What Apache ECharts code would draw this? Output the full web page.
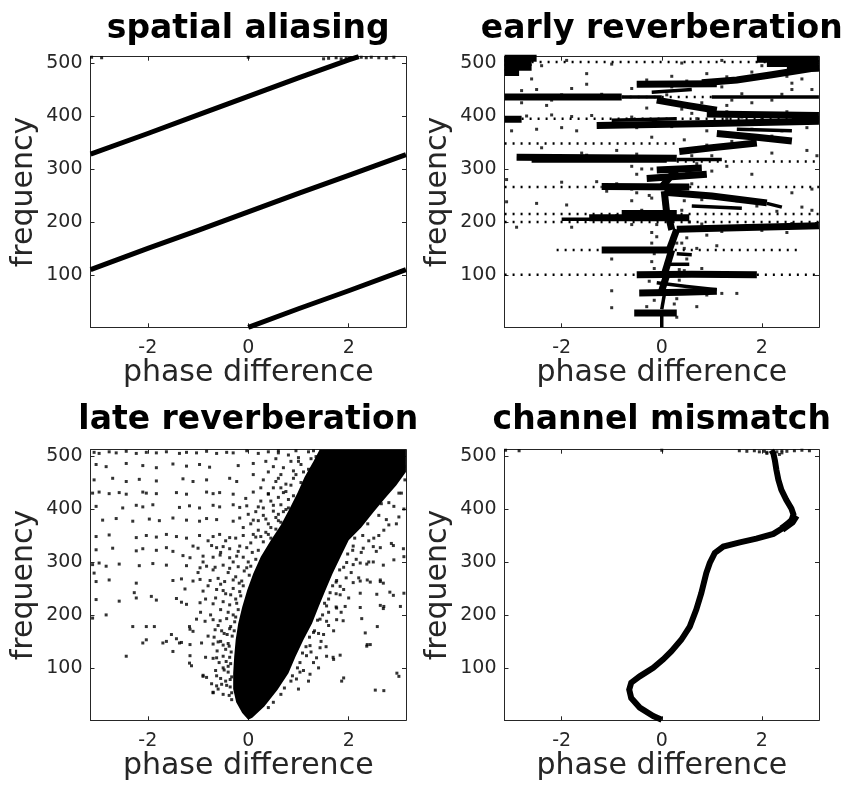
<!DOCTYPE html>
<html>
<head>
<meta charset="utf-8">
<script src="https://cdn.jsdelivr.net/npm/echarts@6.0.0/dist/echarts.min.js"></script>
<style>html,body{margin:0;padding:0;background:#fff}#c{width:847px;height:786px}</style>
</head>
<body>
<div id="c"></div>
<script>
// ---------- data ----------
const phaseTicks = [-2, 0, 2];
const freqTicks = [100, 200, 300, 400, 500];
const titles = ['spatial aliasing', 'early reverberation', 'late reverberation', 'channel mismatch'];
const xName = 'phase difference';
const yName = 'frequency';

// spatial aliasing: wrapped bands (phase, frequency)
const aliasLines = [
  [[0, 1], [1.0, 36], [2.0, 70], [3.14, 110]],
  [[-3.14, 110], [-2.0, 150], [-1.0, 184], [0, 219], [1.0, 254], [2.0, 288], [3.14, 327]],
  [[-3.14, 328], [-2.0, 367], [-1.0, 402], [0, 437], [1.0, 472], [2.0, 506], [2.2, 512]]
];
const aliasDots = [[-3.12, 511], [-2.92, 510], [0, 511], [1.5, 508], [1.6, 509], [1.75, 510], [1.85, 508], [1.95, 509], [2.05, 510], [2.25, 511], [2.35, 510], [2.45, 511], [2.6, 510], [2.75, 509], [2.9, 511]];

// early reverberation
const earlyDense = [
  [[-0.55, 28], [0.3, 28]],
  [[-0.45, 66], [0.4, 67], [1.1, 69]],
  [[0.0, 70], [0.1, 100]],
  [[-0.5, 100], [0.6, 101], [1.9, 100]],
  [[0.05, 100], [0.2, 147]],
  [[-1.2, 147], [0.2, 147]],
  [[0.15, 147], [0.3, 186]],
  [[0.3, 186], [1.5, 189], [3.14, 193]],
  [[0.2, 185], [0.15, 205]],
  [[-1.45, 208], [0.55, 208]],
  [[-0.8, 216], [0.3, 216]],
  [[0.1, 215], [0.05, 258]],
  [[0.05, 256], [1.0, 249], [2.1, 236]],
  [[-1.2, 267], [0.55, 266]],
  [[0.0, 266], [0.3, 300]],
  [[-0.3, 282], [0.9, 290]],
  [[-0.1, 298], [0.8, 302]],
  [[-2.9, 322], [0.3, 320]],
  [[0.35, 333], [1.0, 340], [1.9, 349]],
  [[1.1, 367], [1.9, 360], [2.6, 353]],
  [[-1.3, 382], [1.0, 386], [3.14, 390]],
  [[-3.14, 394], [-2.8, 394]],
  [[2.6, 394], [3.14, 394]],
  [[0.9, 404], [3.14, 401]],
  [[-0.1, 430], [0.5, 420], [1.1, 411]],
  [[-3.14, 436], [-0.8, 436]],
  [[-0.5, 460], [1.1, 461]],
  [[0.8, 463], [1.5, 468], [2.2, 478], [3.14, 492]],
  [[-3.14, 482], [-2.85, 482]],
  [[-3.14, 492], [-2.6, 492]],
  [[-3.14, 501], [-2.6, 501]],
  [[-3.14, 509], [-2.5, 509]],
  [[2.1, 499], [3.14, 499]],
  [[1.9, 507], [3.14, 507]],
  [[2.5, 490], [3.14, 490]]
];
const earlyMedium = [
  [[0, 1], [0, 25]],
  [[0, 35], [0.05, 62]],
  [[-0.1, 85], [0.5, 78], [1.1, 72]],
  [[0.1, 120], [0.55, 120]],
  [[0.3, 140], [0.6, 138]],
  [[2.1, 235], [2.4, 228]],
  [[-2.6, 315], [0.1, 315]],
  [[0.3, 318], [1.2, 318]],
  [[1.0, 436], [3.14, 436]],
  [[-0.8, 436], [0.0, 436]],
  [[-0.2, 445], [0.6, 450]],
  [[-1.1, 205], [-2.0, 205]],
  [[0.6, 230], [1.6, 226]],
  [[1.5, 375], [2.6, 372]],
  [[-1.0, 392], [0.3, 395]]
];
const earlyRows = [
  [[-2.6, 502], [2.1, 502]],
  [[-0.8, 436], [1.0, 436]],
  [[-2.8, 395], [2.6, 395]],
  [[-3.14, 348], [0.3, 348]],
  [[0.3, 314], [3.14, 314]],
  [[-3.14, 266], [-1.2, 266]],
  [[0.55, 266], [3.14, 266]],
  [[-3.14, 215], [3.14, 215]],
  [[-3.14, 200], [3.14, 200]],
  [[0.1, 147], [2.8, 147]],
  [[-2.1, 147], [-1.2, 147]],
  [[-3.14, 100], [-0.5, 100]],
  [[1.9, 100], [3.14, 100]]
];
const earlyDots = [
  [-2.6, 470], [-1.5, 480], [0.9, 480], [2.5, 475], [2.8, 470], [-0.3, 468],
  [-2.8, 448], [-2.5, 450], [-1.8, 452], [2.6, 450], [3.0, 450],
  [-2.3, 420], [0.4, 413], [1.3, 420], [1.8, 425], [2.2, 430],
  [-2.7, 400], [-2.2, 402], [-1.8, 399], [-1.4, 401], [-0.6, 398], [0.7, 395], [1.6, 398],
  [-3.0, 372], [-2.5, 375], [-2.0, 378], [-1.7, 372], [1.8, 375], [2.4, 372], [2.9, 378],
  [-2.4, 340], [-1.6, 330], [-0.9, 335], [2.2, 330], [2.9, 335], [3.1, 325],
  [-0.2, 300], [-0.6, 305], [1.3, 305], [-0.5, 290], [1.8, 290],
  [-3.1, 280], [-2.0, 275], [-1.3, 276], [-1.1, 258], [-0.5, 255], [2.6, 255], [3.0, 262],
  [-3.1, 238], [-2.5, 235], [-1.9, 232], [-0.6, 240], [-0.2, 245], [2.3, 220], [2.8, 228], [3.0, 222],
  [-2.9, 190], [-1.8, 190], [-0.6, 195], [-0.2, 180], [0.9, 175], [2.5, 180],
  [-0.2, 160], [0.3, 160], [0.7, 150], [1.1, 155],
  [-1.0, 130], [0.5, 130], [-0.2, 125], [0.8, 112],
  [-1.0, 70], [0.4, 68], [0.9, 62], [1.2, 65], [1.5, 65],
  [-1.0, 38], [0.7, 40], [0.3, 20],
  [-0.3, 40], [0.25, 45], [-0.15, 52], [0.3, 55], [-0.25, 88], [0.35, 90], [0.45, 108], [-0.15, 112],
  [0.4, 160], [0.5, 170], [-0.1, 172], [0.55, 200], [0.8, 196], [1.2, 182], [2.0, 184], [2.6, 197],
  [-0.9, 212], [-0.4, 222], [0.4, 222], [0.8, 242], [1.5, 240], [1.9, 230], [-0.6, 262], [-0.9, 272],
  [0.6, 272], [0.5, 295], [1.0, 296], [-1.5, 326], [-0.5, 328], [0.6, 325], [0.9, 345], [1.4, 352],
  [1.5, 362], [2.2, 362], [-0.5, 378], [0.2, 380], [2.0, 395], [1.3, 408], [2.5, 408], [0.2, 426],
  [0.8, 425], [-2.0, 440], [-1.2, 441], [1.6, 442], [2.4, 441], [0.2, 455], [0.5, 466], [1.3, 474],
  [1.8, 483], [-2.4, 495], [-1.9, 505], [-1.0, 498], [0.4, 500], [1.2, 505], [2.0, 495],
  [0.35, 110], [-0.15, 140], [0.45, 150], [0.5, 185], [-0.1, 195], [0.45, 240], [-0.25, 250], [0.35, 262],
  [-0.4, 300], [0.7, 310], [1.0, 325], [0.45, 355], [-0.2, 360], [0.9, 372], [1.3, 395], [0.6, 405],
  [-0.3, 415], [1.4, 430], [0.1, 440], [-0.6, 452], [1.2, 455], [2.6, 462], [0.2, 475], [-1.5, 460],
  [-2.2, 430], [-2.8, 425]
];

// late reverberation: solid core outline and scattered points
const lateCore = [
  [0, 2], [-0.12, 15], [-0.24, 35], [-0.3, 60], [-0.3, 90], [-0.28, 121], [-0.25, 153], [-0.2, 184],
  [-0.12, 215], [-0.02, 247], [0.1, 278], [0.25, 310], [0.45, 341], [0.65, 370], [0.82, 400], [0.98, 430],
  [1.12, 460], [1.3, 490], [1.42, 512], [3.14, 512], [3.14, 470], [2.95, 445], [2.72, 420], [2.5, 395],
  [2.25, 365], [2.0, 341], [1.84, 310], [1.68, 278], [1.54, 247], [1.4, 215], [1.27, 184], [1.1, 153],
  [0.94, 121], [0.8, 90], [0.58, 58], [0.32, 27], [0.08, 6]
];
const lateFar = [
  [-3.07, 507], [-2.97, 505], [-2.77, 508], [-2.63, 506], [-2.43, 509], [-2.23, 505], [-2.03, 507], [-1.83, 506], [-1.63, 508], [-1.37, 505], [-1.23, 507], [-1.03, 506], [-0.83, 509], [-0.63, 505], [-0.43, 507], [-0.3, 506], [-0.03, 510], [0.2, 505], [0.4, 508], [0.6, 506],
  [-3.03, 484], [-2.83, 480], [-2.43, 486], [-2.1, 482], [-1.83, 478], [-1.5, 485], [-1.23, 481], [-0.97, 484], [-0.77, 479], [-0.2, 482], [0.1, 486], [0.5, 480],
  [-3.07, 455], [-2.7, 458], [-2.43, 452], [-2.17, 456], [-1.83, 453], [-1.3, 457], [-1.1, 452], [-0.83, 455], [-0.37, 458], [-0.23, 452], [0.3, 455], [0.6, 458],
  [-3.1, 430], [-2.97, 432], [-2.77, 429], [-2.57, 431], [-2.43, 428], [-2.1, 432], [-2.03, 430], [-1.83, 429], [-1.43, 431], [-1.23, 428], [-0.83, 432], [-0.7, 429], [-0.57, 431], [-0.3, 428], [0.1, 432], [0.4, 429], [0.7, 431],
  [-3.03, 405], [-2.5, 402], [-2.23, 407], [-2.1, 404], [-1.9, 408], [-1.37, 403], [-1.17, 406], [-0.97, 402], [-0.7, 407], [-0.57, 404], [-0.3, 408], [-0.17, 403], [-0.03, 406], [0.2, 404], [0.5, 407], [0.8, 402],
  [-2.9, 379], [-2.63, 382], [-2.3, 377], [-1.97, 381], [-1.77, 378], [-1.5, 383], [-1.23, 379], [-0.97, 377], [-0.83, 382], [-0.63, 380], [-0.3, 377], [-0.17, 383], [0.1, 379], [0.35, 381], [0.6, 378], [0.85, 383],
  [-3.03, 348], [-2.77, 351], [-2.23, 346], [-2.03, 350], [-1.83, 347], [-1.63, 352], [-1.43, 348], [-1.23, 345], [-0.97, 350], [-0.7, 348], [-0.57, 352], [-0.37, 346], [-0.1, 350], [0.15, 347], [0.4, 352],
  [-3.03, 323], [-2.7, 326], [-2.23, 321], [-2.1, 325], [-1.83, 322], [-1.63, 327], [-1.5, 320],
  [-3.1, 295], [-2.97, 298], [-2.83, 292], [-2.57, 296], [-2.17, 293], [-1.9, 297], [-1.63, 294],
  [-3.03, 263], [-2.77, 266], [-2.23, 260], [-1.5, 265], [-3.07, 279],
  [-3.03, 229], [-2.57, 226], [-2.23, 232], [-1.83, 228], [-1.43, 231], [-2.27, 242], [-1.93, 235],
  [-3.1, 194], [-2.83, 200], [-2.3, 178], [-2.03, 178], [-1.87, 178], [-1.17, 178],
  [-2.03, 153], [-1.63, 150], [-1.43, 155], [-1.37, 147], [-2.1, 147], [-1.7, 147], [-1.53, 163],
  [-2.43, 122], [-1.5, 131], [-1.17, 109], [-0.9, 84], [-0.7, 53]
];
const lateHalo = [
  [-1.10, 330], [-1.00, 326], [-0.73, 331], [-0.63, 327], [-0.50, 329], [-0.37, 325], [-0.17, 330], [-0.03, 327],
  [-1.30, 312], [-1.16, 308], [-0.90, 311], [-0.70, 309], [-0.56, 313], [-0.37, 308], [-0.23, 311], [-0.10, 309],
  [-1.23, 293], [-0.96, 289], [-0.83, 292], [-0.66, 290], [-0.50, 294], [-0.37, 288], [-0.20, 291], [-0.03, 289],
  [-1.33, 268], [-1.10, 264], [-0.96, 267], [-0.76, 265], [-0.60, 269], [-0.47, 263], [-0.30, 266], [-0.13, 264],
  [-1.26, 249], [-0.90, 245], [-0.63, 248], [-0.50, 246], [-0.30, 250], [-0.17, 244],
  [-1.33, 224], [-1.23, 220], [-0.96, 223], [-0.70, 221], [-0.50, 225], [-0.37, 219], [-0.23, 222],
  [-1.03, 192], [-0.86, 188], [-0.70, 191], [-0.56, 189], [-0.43, 193], [-0.27, 187],
  [-1.16, 173], [-1.10, 169], [-0.66, 172], [-0.53, 170], [-0.37, 174],
  [-1.33, 148], [-1.16, 144], [-0.93, 147], [-0.70, 145], [-0.60, 149], [-0.50, 143], [-0.40, 146],
  [-1.16, 123], [-0.63, 119], [-0.50, 122], [-0.37, 120],
  [-1.13, 104], [-0.50, 100], [-0.40, 103],
  [-0.90, 86], [-0.83, 82], [-0.63, 85], [-0.33, 83],
  [-0.73, 70], [-0.63, 66], [-0.53, 69], [-0.43, 67],
  [-0.70, 54], [-0.50, 50], [-0.33, 53],
  [-0.33, 40], [-0.38, 48], [-0.36, 64], [-0.45, 75], [-0.36, 78], [-0.4, 92], [-0.48, 96], [-0.35, 108],
  [-0.44, 112], [-0.34, 130], [-0.45, 135], [-0.38, 141], [-0.32, 160], [-0.42, 163], [-0.28, 170], [-0.35, 178],
  [-0.25, 196], [-0.3, 200], [-0.4, 205], [-0.2, 210], [-0.25, 230], [-0.15, 236], [-0.35, 238], [-0.1, 255],
  [-0.18, 260], [-0.25, 272], [0.02, 275], [-0.08, 283], [0.05, 292], [0.0, 300], [0.15, 305], [0.08, 318],
  [0.2, 322], [0.05, 336], [0.3, 338], [0.2, 360], [0.45, 365], [0.55, 362], [0.3, 388], [0.6, 390],
  [0.7, 395], [0.45, 415], [0.8, 418], [0.65, 440], [0.85, 445], [0.95, 465], [1.1, 470], [1.0, 490],
  [1.25, 495], [1.3, 510],
  [-0.6, 60], [-0.55, 80], [-0.65, 95], [-0.58, 110], [-0.7, 118], [-0.62, 132], [-0.55, 150], [-0.68, 158],
  [-0.48, 165], [-0.6, 180], [-0.75, 200], [-0.55, 210], [-0.65, 232], [-0.45, 240], [-0.8, 255], [-0.55, 258],
  [-0.4, 280], [-0.7, 285], [-0.3, 300], [-0.55, 318], [-0.2, 320], [-0.45, 340], [-0.25, 345], [-0.8, 340],
  [-0.9, 300], [-1.0, 280], [-0.85, 230], [-0.95, 205], [-0.8, 160], [-0.85, 120],
  [-0.1, 365], [0.05, 372], [0.15, 395], [-0.05, 420], [0.25, 440], [0.1, 465], [0.4, 470], [0.35, 490],
  [0.55, 495], [0.6, 510], [0.25, 415], [0.0, 390], [0.5, 440], [0.65, 465], [0.85, 490], [0.95, 510],
  [0.4, 25], [0.5, 35], [0.65, 50], [0.72, 62], [0.85, 75], [0.88, 85], [0.98, 100], [1.03, 110],
  [1.08, 128], [1.15, 140], [1.22, 158], [1.32, 170], [1.38, 190], [1.48, 200], [1.52, 222], [1.6, 230],
  [1.68, 255], [1.75, 262], [1.82, 285], [1.9, 290], [1.98, 315], [2.08, 322], [2.12, 345], [2.28, 350],
  [2.38, 372], [2.6, 388], [2.8, 412], [3.0, 430], [2.98, 460], [3.1, 480],
  [1.0, 60], [1.1, 95], [1.25, 130], [1.4, 165], [1.6, 205], [1.75, 240], [1.95, 270], [2.15, 305], [2.4, 340],
  [1.3, 110], [1.45, 150], [1.6, 180], [1.75, 215], [1.9, 248], [2.05, 280], [2.25, 318], [2.5, 345],
  [2.7, 360], [2.95, 372], [1.2, 75], [1.4, 100], [1.55, 140], [1.7, 170], [1.85, 205], [2.0, 232],
  [2.2, 270], [2.4, 300], [2.55, 320],
  [2.09, 330], [2.29, 326], [2.49, 329], [2.63, 327], [2.89, 331], [3.09, 325],
  [1.96, 299], [2.09, 295], [2.23, 298], [2.36, 296], [2.49, 300], [2.69, 294],
  [1.76, 265], [2.09, 261], [2.23, 264], [2.43, 262], [2.63, 266], [2.69, 260],
  [1.63, 242], [1.83, 238], [2.23, 241], [2.56, 239], [2.82, 243], [2.89, 237],
  [1.56, 217], [1.76, 213], [1.93, 216], [2.23, 214], [2.63, 218], [2.69, 212],
  [1.43, 192], [1.56, 188], [1.76, 191], [1.89, 189], [2.26, 193],
  [1.30, 167], [1.50, 163], [2.33, 166],
  [1.23, 142], [1.43, 138], [2.36, 141], [2.43, 144],
  [1.16, 123], [1.36, 119], [1.56, 122], [1.69, 120], [1.83, 124],
  [1.03, 92], [1.23, 88], [2.96, 90],
  [0.96, 79], [1.86, 75], [2.53, 58],
  [2.37, 144], [2.57, 178], [1.7, 116], [1.9, 81], [3.0, 84], [2.7, 57], [1.83, 254], [2.37, 266],
  [2.63, 263], [3.03, 216], [3.1, 241], [2.7, 216], [2.9, 304], [3.1, 310],
  [0.1, 352], [0.25, 348], [0.35, 356], [0.45, 345],
  [0.2, 378], [0.4, 372], [0.55, 384], [0.65, 375],
  [0.3, 402], [0.5, 396], [0.65, 408], [0.75, 399],
  [0.4, 428], [0.6, 422], [0.75, 433], [0.9, 425],
  [0.55, 452], [0.75, 447], [0.9, 458], [1.05, 450],
  [0.7, 478], [0.9, 472], [1.05, 484], [1.2, 475],
  [0.8, 502], [1.0, 497], [1.2, 508], [1.35, 499],
  [2.6, 350], [2.85, 335], [2.8, 370], [3.0, 385], [3.1, 400], [2.9, 405], [3.05, 430], [3.12, 455], [2.75, 380], [2.65, 410]
];

// channel mismatch
const mismatchCurve = [
  [0, 2], [-0.17, 9], [-0.44, 25], [-0.61, 43], [-0.65, 59], [-0.61, 72], [-0.44, 84], [-0.17, 100],
  [0.03, 116], [0.19, 131], [0.39, 153], [0.56, 178], [0.69, 210], [0.79, 241], [0.89, 279], [0.96, 298],
  [1.06, 317], [1.23, 329], [1.56, 337], [1.89, 344], [2.23, 353], [2.45, 366], [2.6, 380], [2.63, 390],
  [2.59, 401], [2.49, 417], [2.39, 436], [2.33, 455], [2.29, 474], [2.26, 492], [2.23, 505], [2.19, 511]
];
const mismatchThick = [[[2.4, 362], [2.6, 376], [2.68, 388]]];
const mismatchDots = [[-3.12, 511], [-2.85, 510], [0, 511], [1.55, 510], [1.7, 509], [1.85, 510], [1.95, 508], [2.05, 509], [2.1, 507], [2.3, 508], [2.4, 510], [2.5, 509], [2.65, 510], [2.8, 511], [2.95, 510], [2.1, 505], [2.35, 503], [2.4, 506]];

// ---------- layout ----------
const grids = [
  {left: 90.5, top: 56.7, width: 315.5, height: 270.6},
  {left: 504.5, top: 56.7, width: 314.5, height: 270.6},
  {left: 90.5, top: 449.7, width: 315.5, height: 270.6},
  {left: 504.5, top: 449.7, width: 314.5, height: 270.6}
];
const axisColor = '#262626';
const FONT = '"DejaVu Sans", sans-serif';

const xAxes = [], yAxes = [];
grids.forEach((g, i) => {
  const common = {type: 'value', gridIndex: i, min: -Math.PI, max: Math.PI,
    axisLine: {show: true, onZero: false, lineStyle: {color: axisColor, width: 1}},
    axisTick: {show: true, inside: true, length: 4, customValues: phaseTicks, lineStyle: {color: axisColor}},
    splitLine: {show: false}};
  xAxes.push(Object.assign({}, common, {position: 'bottom',
    axisLabel: {show: true, customValues: phaseTicks, margin: 11, fontSize: 19, fontFamily: FONT, color: axisColor},
    name: xName, nameLocation: 'middle', nameGap: 29,
    nameTextStyle: {fontSize: 30, fontFamily: FONT, color: axisColor}}));
  xAxes.push(Object.assign({}, common, {position: 'top', axisLabel: {show: false}}));
  const ycommon = {type: 'value', gridIndex: i, min: 1, max: 512,
    axisLine: {show: true, onZero: false, lineStyle: {color: axisColor, width: 1}},
    axisTick: {show: true, inside: true, length: 4, customValues: freqTicks, lineStyle: {color: axisColor}},
    splitLine: {show: false}};
  yAxes.push(Object.assign({}, ycommon, {position: 'left',
    axisLabel: {show: true, customValues: freqTicks, margin: 8, fontSize: 19, fontFamily: FONT, color: axisColor},
    name: yName, nameLocation: 'middle', nameGap: 51,
    nameTextStyle: {fontSize: 30, fontFamily: FONT, color: axisColor}}));
  yAxes.push(Object.assign({}, ycommon, {position: 'right', axisLabel: {show: false}}));
});

function linesSeries(i, data, style) {
  return {type: 'lines', coordinateSystem: 'cartesian2d', xAxisIndex: 2 * i, yAxisIndex: 2 * i,
    polyline: true, silent: true, animation: false,
    data: data.map(c => ({coords: c})),
    lineStyle: Object.assign({color: '#000', opacity: 1}, style)};
}
function dotSeries(i, data) {
  return {type: 'scatter', xAxisIndex: 2 * i, yAxisIndex: 2 * i, data: data, symbol: 'rect', symbolSize: 3,
    itemStyle: {color: '#000'}, silent: true, animation: false};
}
function polygonSeries(i, pts) {
  return {type: 'custom', xAxisIndex: 2 * i, yAxisIndex: 2 * i, data: pts, silent: true, animation: false,
    renderItem: function (params, api) {
      if (params.dataIndex !== 0) return null;
      return {type: 'polygon', shape: {points: pts.map(p => api.coord(p))}, style: {fill: '#000'}};
    }};
}

const series = [
  linesSeries(0, aliasLines, {width: 5}),
  dotSeries(0, aliasDots),
  linesSeries(1, earlyRows, {width: 2.5, type: [2, 6]}),
  linesSeries(1, earlyMedium, {width: 3.5}),
  linesSeries(1, earlyDense, {width: 7}),
  dotSeries(1, earlyDots),
  polygonSeries(2, lateCore),
  dotSeries(2, lateFar),
  dotSeries(2, lateHalo),
  linesSeries(3, [mismatchCurve], {width: 6}),
  linesSeries(3, mismatchThick, {width: 8}),
  dotSeries(3, mismatchDots)
];

const titleY = [29, 29, 420, 420];
const graphic = grids.map((g, i) => ({
  type: 'text', x: g.left + g.width / 2, y: titleY[i], silent: true,
  style: {text: titles[i], fill: '#000', font: 'bold 33px "DejaVu Sans", sans-serif', align: 'center', verticalAlign: 'middle'}
}));

const chart = echarts.init(document.getElementById('c'), null, {renderer: 'canvas'});
chart.setOption({
  animation: false,
  backgroundColor: '#fff',
  grid: grids,
  xAxis: xAxes,
  yAxis: yAxes,
  series: series,
  graphic: graphic
});
</script>
</body>
</html>
